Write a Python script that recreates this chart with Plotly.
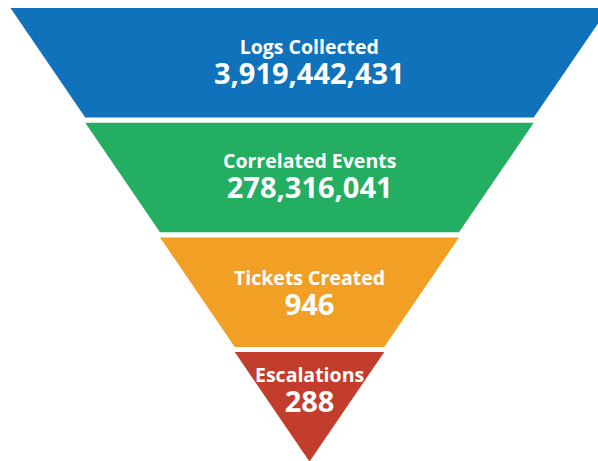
import plotly.graph_objects as go

# Data
stages = ["Logs Collected", "Correlated Events", "Tickets Created", "Escalations"]
values = [3919442431, 278316041, 946, 288]
colors = ["#1072BA", "#23AE61", "#F2A025", "#C23D2C"]

# Layout constants (pixel-like units on the axes)
FIG_W, FIG_H = 598, 461
CX = 309.5       # funnel centre
HALF_W = 299.0   # half width at the top
TOP = 8.0        # top of first band
PITCH = 114.7    # band pitch
BAND_H = 109.5   # band height
TEXT_OFF = [54, 54, 56.5, 38.5]

N = len(stages)
fig = go.Figure()
for i, (name, val, col) in enumerate(zip(stages, values, colors)):
    yt = TOP + i * PITCH
    yb = yt + BAND_H
    ht = HALF_W * (N - i) / N
    hb = HALF_W * (N - i - 1) / N
    xs = [CX - ht, CX + ht, CX + hb, CX - hb, CX - ht]
    ys = [yt, yt, yb, yb, yt]
    fig.add_trace(go.Scatter(x=xs, y=ys, fill="toself", fillcolor=col,
                             mode="lines", line=dict(width=0, color=col),
                             hoverinfo="skip", showlegend=False))
    txt = (f"<span style='font-size:19.5px'>{name}</span><br>"
           f"<span style='font-size:29px'>{val:,}</span>")
    fig.add_annotation(x=CX, y=yt + TEXT_OFF[i], text=txt, showarrow=False,
                       font=dict(family="Open Sans", size=23, color="white", weight=700),
                       xanchor="center", yanchor="middle", align="center")

fig.update_layout(
    width=FIG_W, height=FIG_H,
    margin=dict(l=0, r=0, t=0, b=0),
    paper_bgcolor="white", plot_bgcolor="white",
    xaxis=dict(range=[0, FIG_W], visible=False, fixedrange=True),
    yaxis=dict(range=[FIG_H, 0], visible=False, fixedrange=True),
    showlegend=False,
)
fig.write_html("out.html", config={"displayModeBar": False},
               post_script="document.body.style.margin='0';")
